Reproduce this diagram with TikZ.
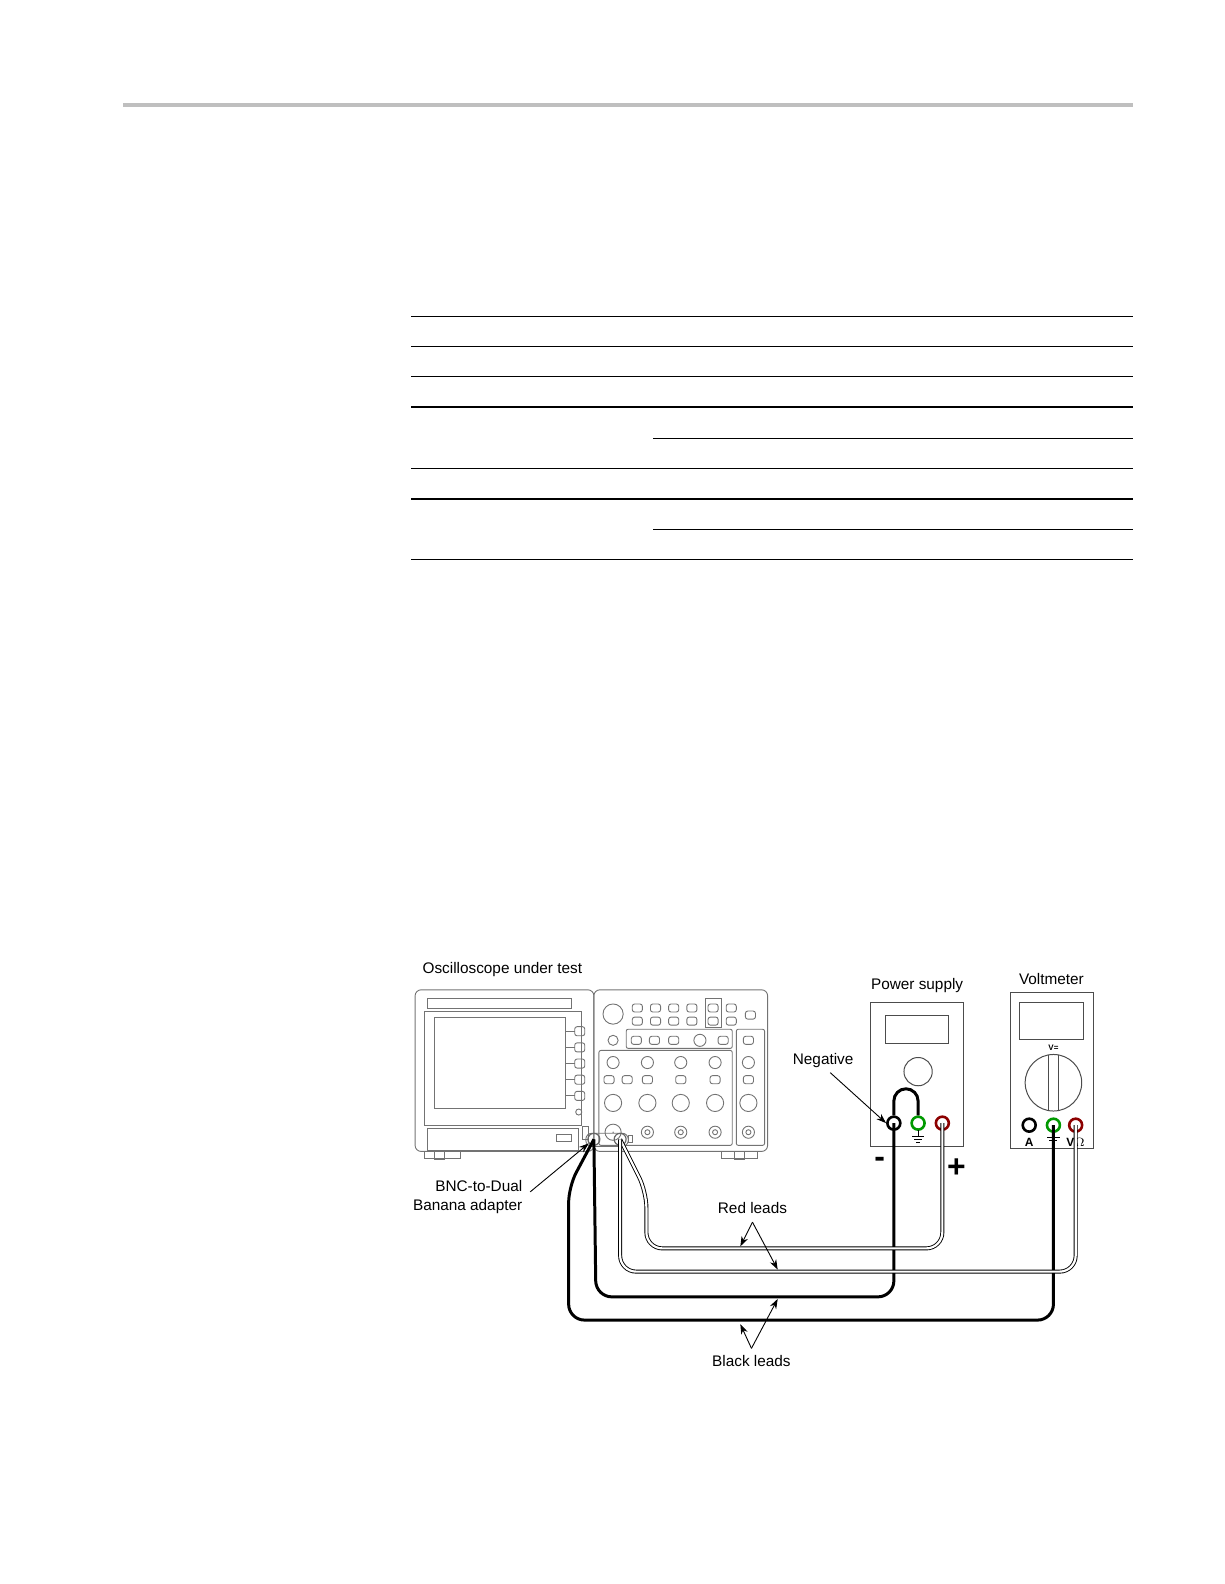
\documentclass[tikz,border=0pt]{standalone}
\usepackage{fontspec}
\setmainfont{Liberation Sans}
\usetikzlibrary{arrows.meta, positioning, calc}

\begin{document}
\begin{tikzpicture}[
  x=0.505bp, y=-0.505bp,
  >={Stealth[length=5pt,width=3.5pt]},
  panel/.style={draw=black!55, line width=0.45pt},
  btn/.style={panel, rounded corners=1.2pt},
  devbox/.style={draw=black!70, line width=0.5pt},
  rule/.style={line width=0.6pt},
  label/.style={font=\fontsize{7.7}{9.5}\selectfont, align=center, inner sep=0pt},
  blacklead/.style={line width=1.5pt, rounded corners=8pt},
  redlead/.style={double=white, draw=black, line width=0.45pt, double distance=1.1pt, rounded corners=8pt},
  jack/.style={circle, draw=#1, line width=1.3pt, minimum size=6.5pt, inner sep=0pt},
  callout/.style={->, line width=0.45pt}
]
\useasboundingbox (0,0) rectangle (1211.9,1568.3);

% page header rule and table rules
\draw[line width=1.6pt, black!25] (122,104) -- (1122,104);
\foreach \yy in {313,343,373,403,464,494,554}
  \draw[rule] (407,\yy) -- (1122,\yy);
\foreach \yy in {434,524}
  \draw[rule] (647,\yy) -- (1122,\yy);

% oscilloscope body
\node[label, anchor=west] (scopelbl) at (418,960) {Oscilloscope under test};
\draw[panel, rounded corners=3pt] (411,980) rectangle (588,1140);
\draw[panel, rounded corners=3pt] (588,980) rectangle (760,1140);
\draw[panel] (420,1140) -- (420,1147) -- (456,1147) -- (456,1140);
\draw[panel] (430,1140) rectangle (440,1148);
\draw[panel] (714,1140) -- (714,1147) -- (750,1147) -- (750,1140);
\draw[panel] (727,1140) rectangle (737,1148);
\draw[panel] (423,989) rectangle (566,998);
\draw[panel] (420,1001) rectangle (576,1114);
\draw[panel] (430,1007) rectangle (560,1097);
\foreach \yy in {1021,1037,1053,1069,1085} {
  \draw[panel] (560,\yy) -- (569,\yy);
  \draw[btn] (569,\yy-4.5) rectangle (579,\yy+4.5);
}
\draw[panel] (573,1101) circle (3);
\draw[panel] (423,1117) rectangle (573,1139);
\draw[panel] (551,1123) rectangle (566,1130);
\draw[panel] (577,1115) rectangle (583,1128);

% control panel
\draw[panel] (607,1004) circle (10);
\foreach \xx in {631,649,667,685,724}
  \foreach \yy in {998,1011}
    \draw[btn] (\xx-5,\yy-4) rectangle (\xx+5,\yy+4);
\draw[panel] (698,989) rectangle (714,1017);
\foreach \yy in {998,1011}
  \draw[btn] (701,\yy-4) rectangle (711,\yy+4);
\draw[btn] (738,1001) rectangle (748,1009);
\draw[panel] (607,1030) circle (5);
\draw[panel, rounded corners=1pt] (620,1019) rectangle (725,1038);
\foreach \xx in {630,648,667,716}
  \draw[btn] (\xx-5,1026) rectangle (\xx+5,1034);
\draw[panel] (693,1030) circle (6);
\draw[panel, rounded corners=1pt] (593,1040) rectangle (725,1134);
\draw[panel, rounded corners=1pt] (729,1019) rectangle (757,1134);
\foreach \xx in {607,641,674,708} {
  \draw[panel] (\xx,1052) circle (6);
  \draw[panel] (\xx,1092) circle (8.5);
}
\foreach \xx in {603,621,641,674,708}
  \draw[btn] (\xx-5,1065) rectangle (\xx+5,1073);
\draw[panel] (607,1121) circle (8);
\fill[black!55] (607,1121) circle (0.8);
\foreach \xx in {641,674,708,741} {
  \draw[panel] (\xx,1121) circle (6);
  \draw[panel] (\xx,1121) circle (2.5);
}
\draw[btn] (736,1026) rectangle (746,1034);
\draw[panel] (741,1052) circle (6);
\draw[btn] (736,1065) rectangle (746,1073);
\draw[panel] (741,1092) circle (8.5);

% BNC-to-dual banana adapter
\draw[panel, rounded corners=3pt] (580,1122) rectangle (622,1135);
\draw[panel] (622,1124) rectangle (626,1131);
\node[jack=black!60, line width=0.6pt, minimum size=6pt] (adpblk) at (588,1128) {};
\node[jack=black!60, line width=0.6pt, minimum size=6pt] (adpred) at (614,1128) {};

% power supply
\node[label] (pslbl) at (908,976) {Power supply};
\draw[devbox] (862,993) rectangle (954,1135);
\draw[devbox] (877,1005) rectangle (939,1033);
\draw[devbox] (909,1061) circle (14);
\node[jack=black] (psneg) at (885,1112) {};
\node[jack=green!60!black] (psgnd) at (909,1112) {};
\node[jack=red!55!black] (pspos) at (933,1112) {};
\draw[line width=0.5pt] (909,1119) -- (909,1125) (903,1125) -- (915,1125) (905,1128) -- (913,1128) (907,1131) -- (911,1131);
\draw[line width=0.5pt] (933,1122) -- (933,1128);
\draw[line width=1.5pt] (psneg.north) -- (885,1090) arc[start angle=180, end angle=360, radius=12] -- (psgnd.north);
\node[font=\bfseries\fontsize{16}{16}\selectfont, inner sep=0pt] (minus) at (871,1151) {-};
\node[font=\bfseries\fontsize{16}{16}\selectfont, inner sep=0pt] (plus) at (947,1157) {+};

% voltmeter
\node[label] (vmlbl) at (1041,969) {Voltmeter};
\draw[devbox] (1000,983) rectangle (1083,1137);
\draw[devbox] (1009,993) rectangle (1073,1029);
\node[font=\bfseries\fontsize{4}{4}\selectfont, inner sep=0pt] (vdc) at (1043,1037) {V=};
\draw[devbox] (1043,1072) circle (28);
\draw[devbox] (1038,1044.5) -- (1038,1099.5) (1048,1044.5) -- (1048,1099.5);
\node[jack=black] (vma) at (1019,1114) {};
\node[jack=green!60!black] (vmgnd) at (1043,1114) {};
\node[jack=red!55!black] (vmv) at (1065,1114) {};
\node[font=\bfseries\fontsize{6}{6}\selectfont, inner sep=0pt] (albl) at (1019,1131) {A};
\node[font=\bfseries\fontsize{6}{6}\selectfont, inner sep=0pt] (vlbl) at (1065,1131) {V$\Omega$};
\draw[line width=0.5pt] (1037,1126) -- (1049,1126) (1039,1129) -- (1047,1129);

% leads
\draw[blacklead] (adpblk.center) -- (590,1284) -- (885,1284) -- (psneg.center);
\draw[blacklead] (adpblk.center) -- (563,1175) -- (563,1307) -- (1043,1307) -- (vmgnd.center);
\draw[redlead] (adpred.center) -- (640,1180) -- (640,1236) -- (933,1236) -- (pspos.center);
\draw[redlead] (adpred.center) -- (614,1259) -- (1065,1259) -- (vmv.center);

% callouts
\node[label] (neglbl) at (815,1050) {Negative};
\draw[callout] (822,1062) -- (psneg.west);
\node[label, align=right] (bnclbl) at (463,1185) {BNC-to-Dual\\Banana adapter};
\coordinate (bnctip) at (583,1132);
\draw[callout] (525,1180) -- (bnctip);
\node[label] (redlbl) at (745,1196) {Red leads};
\coordinate (redapex) at (745,1210);
\draw[callout] (redapex) -- (733,1234);
\draw[callout] (redapex) -- (770,1257);
\node[label] (blklbl) at (744,1348) {Black leads};
\coordinate (blkapex) at (744,1335);
\draw[callout] (blkapex) -- (733,1311);
\draw[callout] (blkapex) -- (770,1286);
\end{tikzpicture}
\end{document}
